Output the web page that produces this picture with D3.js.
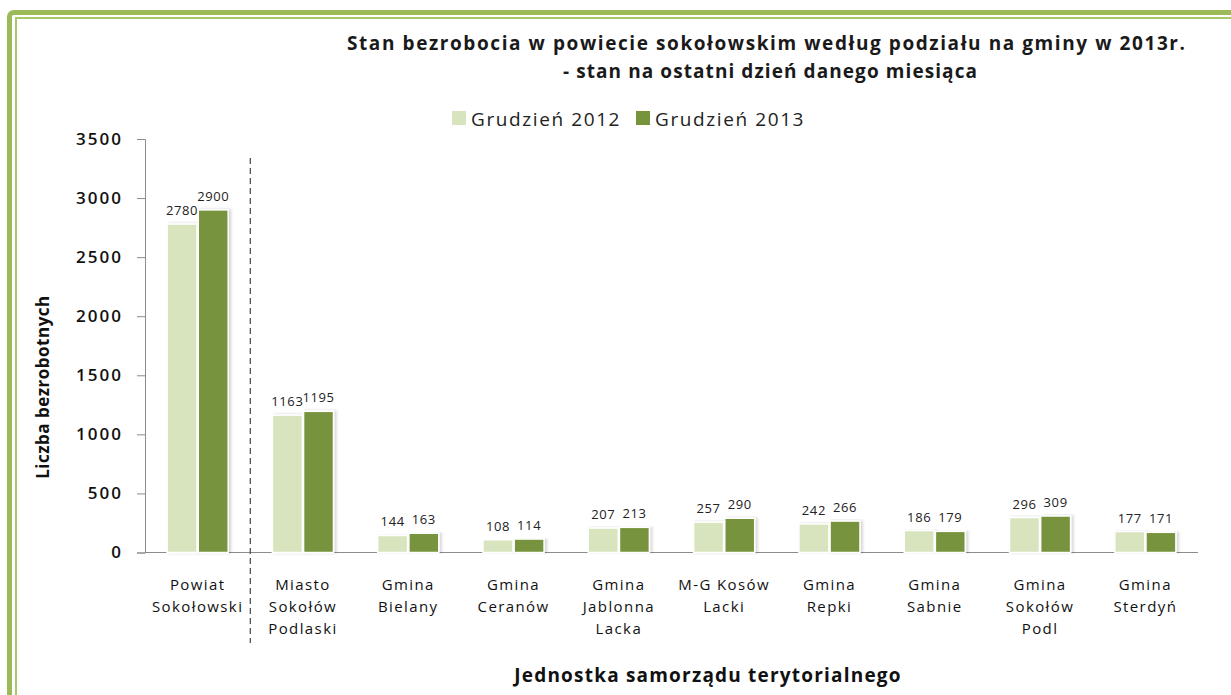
<!DOCTYPE html>
<html><head><meta charset="utf-8">
<script src="https://cdn.jsdelivr.net/npm/d3@7"></script>
<style>body{margin:0;background:#fff;}svg{display:block;}</style>
</head><body>
<svg id="chart" width="1231" height="695"></svg>
<script>
const categories = [
  ["Powiat","Sokołowski"],
  ["Miasto","Sokołów","Podlaski"],
  ["Gmina","Bielany"],
  ["Gmina","Ceranów"],
  ["Gmina","Jablonna","Lacka"],
  ["M-G Kosów","Lacki"],
  ["Gmina","Repki"],
  ["Gmina","Sabnie"],
  ["Gmina","Sokołów","Podl"],
  ["Gmina","Sterdyń"]
];
const seriesNames = ["Grudzień 2012","Grudzień 2013"];
const values2012 = [2780,1163,144,108,207,257,242,186,296,177];
const values2013 = [2900,1195,163,114,213,290,266,179,309,171];
const yTicks = [0,500,1000,1500,2000,2500,3000,3500];
const colors = ["#d7e4bd","#77933c"];

const svg = d3.select("#chart");
const font = "'Open Sans', 'Noto Sans', sans-serif";

// frame
const defs = svg.append("defs");
const f = defs.append("filter").attr("id","sh").attr("x","-20%").attr("y","-5%").attr("width","150%").attr("height","110%");
f.append("feDropShadow").attr("dx",2).attr("dy",0).attr("stdDeviation",1.5).attr("flood-color","#000").attr("flood-opacity",0.18);

svg.append("rect").attr("x",9.5).attr("y",12.5).attr("width",1240).attr("height",720).attr("rx",4)
  .attr("fill","none").attr("stroke","#9bbb59").attr("stroke-width",5);
svg.append("rect").attr("x",16).attr("y",18).attr("width",1240).attr("height",720)
  .attr("fill","none").attr("stroke","#a9c76b").attr("stroke-width",2);

const ids = d3.range(categories.length);
const x = d3.scaleBand().domain(ids).range([145,1198]).paddingInner(0.42).paddingOuter(0.21);
const xs = d3.scaleBand().domain([0,1]).range([0,x.bandwidth()]).paddingInner(0.04);
const y = d3.scaleLinear().domain([0,3500]).range([552.5,139]);

// title
const title = svg.append("text").attr("font-family",font).attr("font-weight","bold").attr("font-size",19).attr("fill","#1a1a1a").attr("text-anchor","middle");
title.append("tspan").attr("x",766).attr("y",50).attr("textLength",838).attr("lengthAdjust","spacing")
  .text("Stan bezrobocia w powiecie sokołowskim według podziału na gminy w 2013r.");
title.append("tspan").attr("x",770).attr("y",78).attr("textLength",414).attr("lengthAdjust","spacing")
  .text("- stan na ostatni dzień danego miesiąca");

// legend
const legendX = [452,636];
seriesNames.forEach((n,i)=>{
  svg.append("rect").attr("x",legendX[i]).attr("y",111).attr("width",14).attr("height",14).attr("fill",colors[i]);
  svg.append("text").attr("x",legendX[i]+19).attr("y",126).attr("font-family",font).attr("font-size",19)
    .attr("letter-spacing",1.6).attr("fill","#222").text(n);
});

// axes
const yAxis = svg.append("g").attr("transform","translate(145,0)")
  .call(d3.axisLeft(y).tickValues(yTicks).tickSize(8).tickPadding(14).tickFormat(d3.format("d")));
yAxis.select(".domain").attr("stroke","#8c8c8c");
yAxis.selectAll(".tick line").attr("stroke","#8c8c8c");
yAxis.selectAll(".tick text").attr("font-family",font).attr("font-size",17).attr("font-weight",600)
  .attr("letter-spacing",2).attr("fill","#111");

svg.append("line").attr("x1",145).attr("x2",1198).attr("y1",y(0)).attr("y2",y(0)).attr("stroke","#8c8c8c");

// separator
svg.append("line").attr("x1",(x(0)+x.bandwidth()+x(1))/2).attr("x2",(x(0)+x.bandwidth()+x(1))/2)
  .attr("y1",158).attr("y2",643).attr("stroke","#444").attr("stroke-width",1.2).attr("stroke-dasharray","6,4");

// bars
const series = [values2012, values2013];
series.forEach((vals,si)=>{
  svg.append("g").selectAll("rect").data(vals).join("rect")
    .attr("x",(d,i)=>x(i)+xs(si)).attr("y",d=>y(d))
    .attr("width",xs.bandwidth()).attr("height",d=>y(0)-y(d))
    .attr("fill",colors[si]).attr("stroke","#fff").attr("stroke-width",1.5)
    .attr("filter","url(#sh)");
  svg.append("g").selectAll("text").data(vals).join("text")
    .attr("x",(d,i)=>x(i)+xs(si)+xs.bandwidth()/2).attr("y",d=>y(d)-9)
    .attr("text-anchor","middle").attr("font-family",font).attr("font-size",13).attr("letter-spacing",0.6)
    .attr("fill","#222").text(d=>d);
});

// category labels
categories.forEach((lines,i)=>{
  const t = svg.append("text").attr("text-anchor","middle").attr("font-family",font)
    .attr("font-size",15).attr("letter-spacing",1.4).attr("fill","#111");
  lines.forEach((l,j)=>t.append("tspan").attr("x",x(i)+x.bandwidth()/2).attr("y",590+j*22).text(l));
});

// axis titles
svg.append("text").attr("x",708).attr("y",682).attr("text-anchor","middle").attr("font-family",font)
  .attr("font-weight","bold").attr("font-size",19).attr("letter-spacing",1.2).attr("fill","#111").text("Jednostka samorządu terytorialnego");
svg.append("text").attr("transform","translate(49,387) rotate(-90)").attr("text-anchor","middle").attr("font-family",font)
  .attr("font-weight","bold").attr("font-size",17).attr("letter-spacing",0.5).attr("fill","#111").text("Liczba bezrobotnych");
</script>
</body></html>
